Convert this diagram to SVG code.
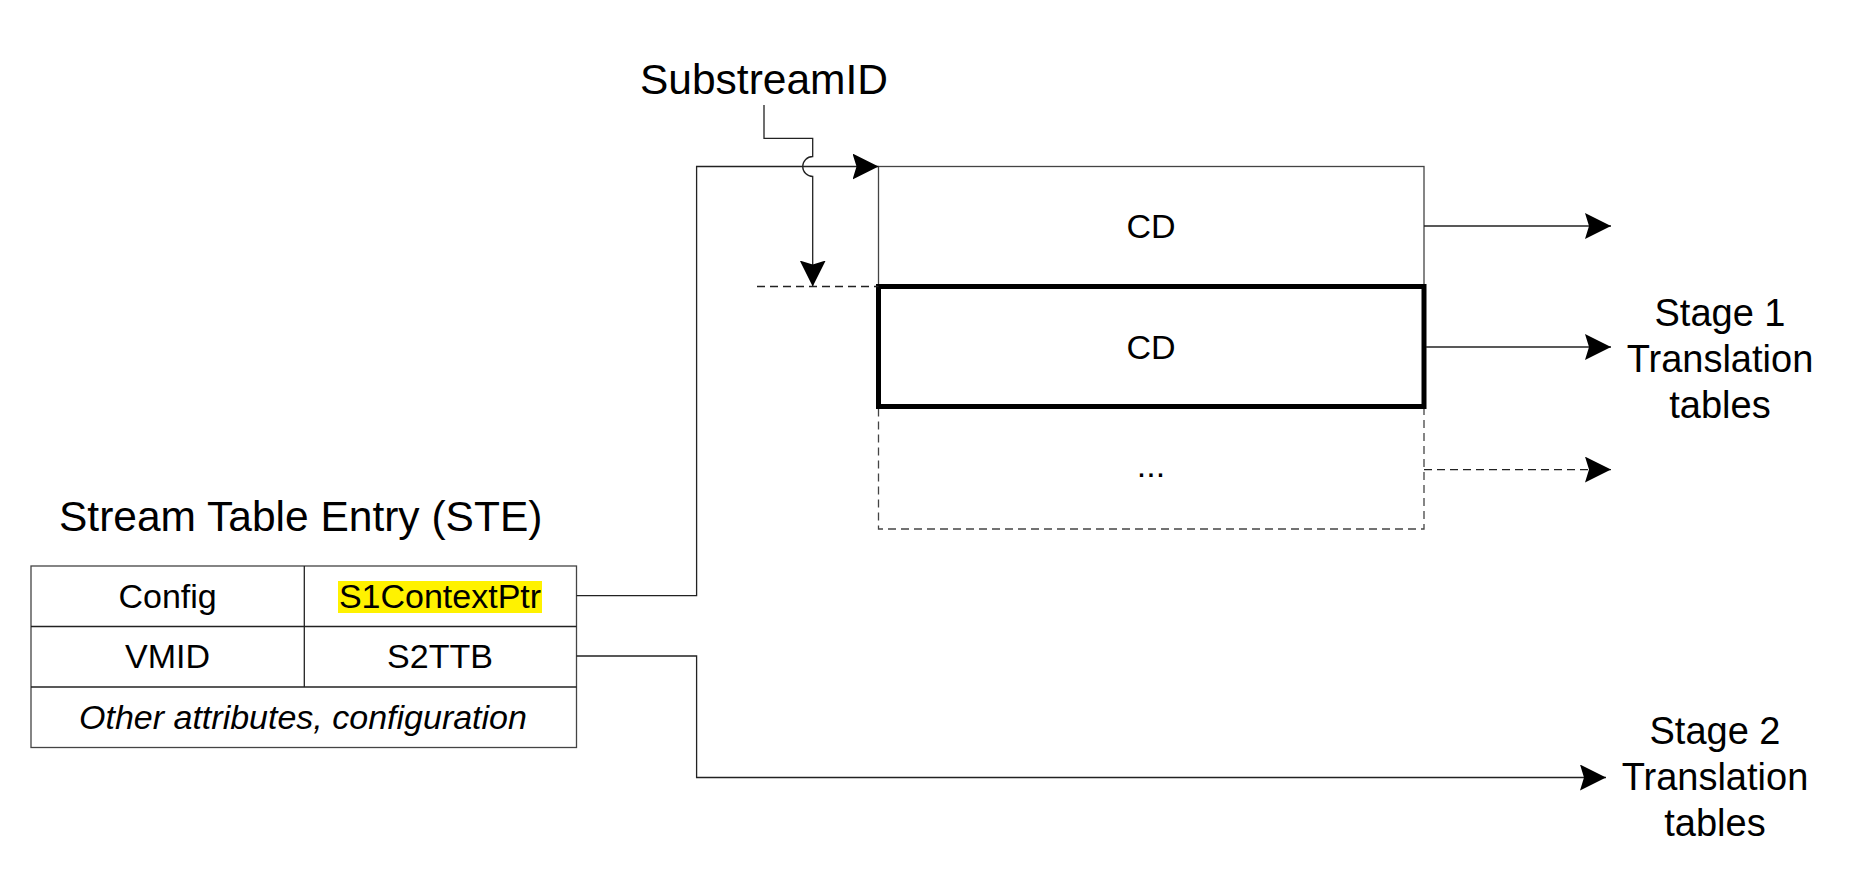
<svg xmlns="http://www.w3.org/2000/svg" width="1864" height="880" viewBox="0 0 1864 880">
<style>
text{font-family:"Liberation Sans",Arial,sans-serif;fill:#000}
.ln{fill:none;stroke:#222;stroke-width:1.3}
.box{fill:#fff;stroke:#444;stroke-width:1.3}
.dash{stroke-dasharray:8,5}
.t34{font-size:34px;text-anchor:middle}
.big{font-size:38px;text-anchor:middle}
</style>
<defs>
<marker id="ah" markerUnits="userSpaceOnUse" markerWidth="27" markerHeight="26" viewBox="0 0 27 26" refX="26" refY="13" orient="auto">
<path d="M0,0 L26,13 L0,26 L4,13 Z" fill="#000"/>
</marker>
</defs>
<rect width="1864" height="880" fill="#fff"/>

<g id="substream-label">
<text x="764" y="94" font-size="42.5" text-anchor="middle">SubstreamID</text>
</g>

<g id="cd-table">
<rect class="box" x="878.5" y="166.5" width="545.5" height="120"/>
<text class="t34" x="1151" y="238">CD</text>
<rect class="box dash" x="878.5" y="406.5" width="545.5" height="122.5"/>
<text class="t34" x="1151" y="477">...</text>
<rect x="878.5" y="286.5" width="545.5" height="120" fill="#fff" stroke="#000" stroke-width="5"/>
<text class="t34" x="1151" y="359">CD</text>
</g>

<g id="stage1">
<text class="big" x="1720" y="326">Stage 1</text>
<text class="big" x="1720" y="372">Translation</text>
<text class="big" x="1720" y="418">tables</text>
</g>

<g id="stage2">
<text class="big" x="1715" y="744">Stage 2</text>
<text class="big" x="1715" y="790">Translation</text>
<text class="big" x="1715" y="836">tables</text>
</g>

<g id="ste">
<text x="300.7" y="531" font-size="42.5" text-anchor="middle">Stream Table Entry (STE)</text>
<rect class="box" x="31" y="566" width="545.5" height="181.5"/>
<line class="ln" x1="31" y1="626.5" x2="576.5" y2="626.5"/>
<line class="ln" x1="31" y1="687" x2="576.5" y2="687"/>
<line class="ln" x1="304.3" y1="566" x2="304.3" y2="687"/>
<rect x="338" y="581" width="204" height="32" fill="#fff200"/>
<text class="t34" x="167.6" y="608">Config</text>
<text class="t34" x="440" y="608">S1ContextPtr</text>
<text class="t34" x="167.6" y="668">VMID</text>
<text class="t34" x="440" y="668">S2TTB</text>
<text class="t34" x="303" y="729" font-style="italic">Other attributes, configuration</text>
</g>

<g id="connectors">
<path class="ln" d="M576.5,595.6 H696.6 V166.5 H878.5" marker-end="url(#ah)"/>
<path class="ln" d="M764,105 V138.3 H812.7 V156.5 A10,10 0 0 0 812.7,176.5 V286.5" marker-end="url(#ah)"/>
<line class="ln dash" x1="757" y1="286.5" x2="878.5" y2="286.5"/>
<line class="ln" x1="1424" y1="226" x2="1611" y2="226" marker-end="url(#ah)"/>
<line class="ln" x1="1426" y1="347" x2="1611" y2="347" marker-end="url(#ah)"/>
<line class="ln dash" x1="1424" y1="469.6" x2="1611" y2="469.6" marker-end="url(#ah)"/>
<path class="ln" d="M576.5,656 H696.6 V777.5 H1606" marker-end="url(#ah)"/>
</g>
</svg>
